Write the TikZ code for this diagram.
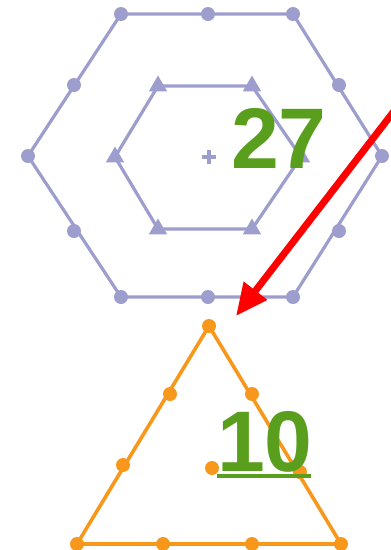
\documentclass[tikz,border=0pt]{standalone}
\usepackage{fontspec}
\setmainfont{Liberation Sans}
\usetikzlibrary{shapes.geometric,arrows.meta}
\definecolor{hexcol}{RGB}{157,157,206}
\definecolor{orcol}{RGB}{247,152,29}
\definecolor{grcol}{RGB}{90,158,30}
\tikzset{
  hexdot/.style={circle,fill=hexcol,inner sep=0pt,minimum size=14pt},
  hextri/.style={regular polygon,regular polygon sides=3,fill=hexcol,inner sep=0pt,minimum size=21pt},
  ordot/.style={circle,fill=orcol,inner sep=0pt,minimum size=14pt},
  hexline/.style={draw=hexcol,line width=3.2pt},
  orline/.style={draw=orcol,line width=3.6pt},
  bignum/.style={text=grcol,font=\fontsize{86}{86}\selectfont\bfseries,inner sep=0pt,anchor=base},
}
\begin{document}
\begin{tikzpicture}[x=1pt,y=-1pt]
\useasboundingbox (0,0) rectangle (391,550);
% outer hexagon coordinates
\coordinate (o1) at (121,14);
\coordinate (o2) at (293,14);
\coordinate (o3) at (382,156);
\coordinate (o4) at (293,297);
\coordinate (o5) at (121,297);
\coordinate (o6) at (28,156);
\draw[hexline,line join=round] (o1) -- (o2) -- (o3) -- (o4) -- (o5) -- (o6) -- cycle;
% inner hexagon
\coordinate (i1) at (158,86);
\coordinate (i2) at (252,86);
\coordinate (i3) at (301,157);
\coordinate (i4) at (252,229);
\coordinate (i5) at (158,229);
\coordinate (i6) at (115,157);
\draw[hexline,line join=round] (i1) -- (i2) -- (i3) -- (i4) -- (i5) -- (i6) -- cycle;
\foreach \n in {i1,i2,i3,i4,i5,i6} \node[hextri] at (\n) {};
% outer dots
\foreach \n/\p in {d1/{(121,14)},d2/{(208,14)},d3/{(293,14)},d4/{(339,85)},d5/{(382,156)},d6/{(339,231)},d7/{(293,297)},d8/{(208,297)},d9/{(121,297)},d10/{(74,231)},d11/{(28,156)},d12/{(74,85)}}
  \node[hexdot] (\n) at \p {};
% center plus
\coordinate (plus) at (209,157);
\draw[hexcol,line width=3.6pt] ([xshift=-7pt]plus) -- ([xshift=7pt]plus);
\draw[hexcol,line width=3.6pt] ([yshift=-7pt]plus) -- ([yshift=7pt]plus);
% number 27
\node[bignum] (n27) at (279,168) {27};
% triangle
\coordinate (t1) at (209,326);
\coordinate (t2) at (341,544);
\coordinate (t3) at (77,544);
\draw[orline,line join=round] (t1) -- (t2) -- (t3) -- cycle;
\foreach \n/\p in {e1/{(209,326)},e2/{(252,394)},e3/{(300,472)},e4/{(341,544)},e5/{(252,544)},e6/{(163,544)},e7/{(77,544)},e8/{(123,465)},e9/{(170,394)},e10/{(212,468)}}
  \node[ordot] (\n) at \p {};
% number 10
\node[bignum] (n10) at (265,471) {10};
\draw[grcol,line width=4pt] (217,476) -- (311,476);
% arrow
\coordinate (as) at (398,106);
\coordinate (ae) at (236,316);
\draw[red,line width=7pt,-{Triangle[length=32pt,width=28pt]}] (as) -- (ae);
\end{tikzpicture}
\end{document}
